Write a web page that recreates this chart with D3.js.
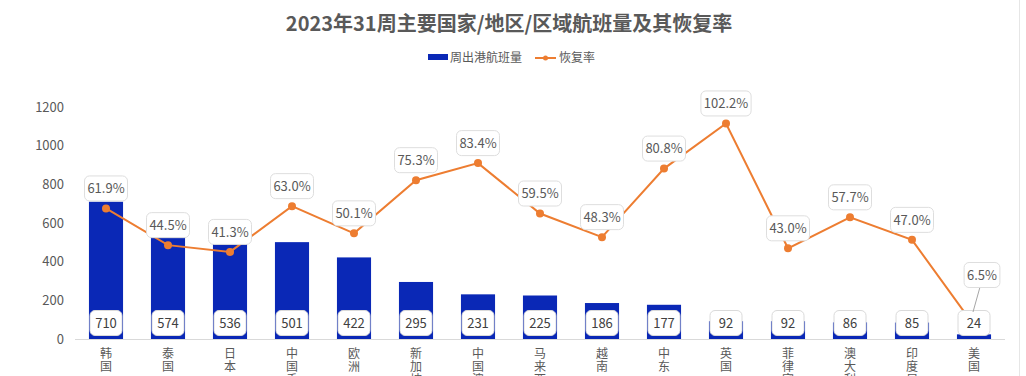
<!DOCTYPE html>
<html>
<head>
<meta charset="utf-8">
<script src="https://cdn.jsdelivr.net/npm/d3@7/dist/d3.min.js"></script>
<style>
  body { margin: 0; background: #fff; }
  svg { display: block; font-family: "Noto Sans CJK SC", "Noto Sans", sans-serif; }
</style>
</head>
<body>
<div id="chart"></div>
<script>
// data
const categories = ['韩国', '泰国', '日本', '中国香港', '欧洲', '新加坡', '中国澳门', '马来西亚',
    '越南', '中东', '英国', '菲律宾', '澳大利亚', '印度尼西亚', '美国'];
const flights = [710, 574, 536, 501, 422, 295, 231, 225, 186, 177, 92, 92, 86, 85, 24];
const recovery = [0.619, 0.445, 0.413, 0.630, 0.501, 0.753, 0.834, 0.595, 0.483, 0.808, 1.022, 0.430, 0.577, 0.470, 0.065];
const yTicks = [0, 200, 400, 600, 800, 1000, 1200];

const W = 1026, H = 376;
const barColor = '#0A28B6';
const lineColor = '#ED7D31';
const textColor = '#595959';

const svg = d3.select('#chart').append('svg')
    .attr('width', W).attr('height', H);

// title
svg.append('text')
    .attr('x', 509).attr('y', 31)
    .attr('text-anchor', 'middle')
    .attr('font-size', '20px')
    .attr('font-weight', 'bold')
    .attr('fill', textColor)
    .text('2023年31周主要国家/地区/区域航班量及其恢复率');

// legend
const legend = svg.append('g').attr('font-size', '12px').attr('fill', textColor);
legend.append('rect').attr('x', 428).attr('y', 54).attr('width', 20).attr('height', 6).attr('fill', barColor);
legend.append('text').attr('x', 450).attr('y', 62).text('周出港航班量');
legend.append('line').attr('x1', 535).attr('x2', 556).attr('y1', 58).attr('y2', 58)
    .attr('stroke', lineColor).attr('stroke-width', 2);
legend.append('circle').attr('cx', 545.5).attr('cy', 58).attr('r', 2.5).attr('fill', lineColor);
legend.append('text').attr('x', 559).attr('y', 62).text('恢复率');

// scales
const x = d3.scaleBand().domain(categories).range([75, 1005]).paddingInner(0.45).paddingOuter(0.225);
const y = d3.scaleLinear().domain([0, 1200]).range([339, 107]);
const y2 = d3.scaleLinear().domain([0, 1.1]).range([339, 107]); // hidden secondary axis
const cx = d => x(d) + x.bandwidth() / 2;

// y axis
const yAxis = svg.append('g')
    .attr('transform', 'translate(70,0)')
    .call(d3.axisLeft(y).tickValues(yTicks).tickFormat(d3.format('d')).tickSize(0).tickPadding(6));
yAxis.select('.domain').remove();
yAxis.selectAll('text').attr('font-size', '13px').attr('fill', textColor)
    .attr('font-family', '"Noto Sans CJK SC", sans-serif');

// right border of chart area
svg.append('line').attr('x1', 1019.5).attr('x2', 1019.5).attr('y1', 0).attr('y2', H)
    .attr('stroke', '#e6e6e6');

// bars
svg.append('g').selectAll('rect')
    .data(flights)
    .join('rect')
    .attr('x', (d, i) => x(categories[i]))
    .attr('y', d => y(d))
    .attr('width', x.bandwidth())
    .attr('height', d => y(0) - y(d))
    .attr('fill', barColor);

// x axis line
svg.append('line').attr('x1', 75).attr('x2', 1005).attr('y1', 339.5).attr('y2', 339.5)
    .attr('stroke', '#d9d9d9');

// x labels, vertical one char per line (bottom of the image cuts them off)
const xl = svg.append('g').attr('font-size', '12px').attr('fill', textColor);
categories.forEach(c => {
    [...c].forEach((ch, k) => {
        xl.append('text').attr('text-anchor', 'middle')
            .attr('x', cx(c)).attr('y', 358 + k * 13).text(ch);
    });
});

// line
const line = d3.line()
    .x((d, i) => cx(categories[i]))
    .y(d => y2(d));
svg.append('path').datum(recovery)
    .attr('d', line)
    .attr('fill', 'none')
    .attr('stroke', lineColor)
    .attr('stroke-width', 2);

svg.append('g').selectAll('circle')
    .data(recovery)
    .join('circle')
    .attr('cx', (d, i) => cx(categories[i]))
    .attr('cy', d => y2(d))
    .attr('r', 4)
    .attr('fill', lineColor);

// bar value labels (drawn over the line, as in the reference)
const bl = svg.append('g');
flights.forEach((v, i) => {
    const c = categories[i];
    const g = bl.append('g').attr('transform', `translate(${cx(c)},323)`);
    g.append('rect').attr('x', -16).attr('y', -12.5).attr('width', 32).attr('height', 25)
        .attr('rx', 5).attr('fill', '#fff').attr('stroke', '#dadada');
    g.append('text').attr('text-anchor', 'middle').attr('dy', '0.36em')
        .attr('font-size', '13px').attr('fill', '#404040').text(v);
});

// recovery labels
const fmt = d => (d * 100).toFixed(1) + '%';
const last = categories.length - 1;
const rl = svg.append('g');
recovery.forEach((v, i) => {
    const c = categories[i];
    let lx = cx(c), ly = y2(v) - 20;
    if (i === last) {
        lx = cx(c) + 8; ly = 275;
        rl.append('line').attr('x1', cx(c) - 1).attr('y1', 312)
            .attr('x2', lx - 2).attr('y2', ly + 12)
            .attr('stroke', '#a6a6a6').attr('stroke-width', 1);
    }
    const s = fmt(v);
    const w = s.length * 7.2 + 7;
    const g = rl.append('g').attr('transform', `translate(${lx},${ly})`);
    g.append('rect').attr('x', -w / 2).attr('y', -12.5).attr('width', w).attr('height', 25)
        .attr('rx', 5).attr('fill', '#fff').attr('stroke', '#dedede');
    g.append('text').attr('text-anchor', 'middle').attr('dy', '0.36em')
        .attr('font-size', '13px').attr('fill', textColor).text(s);
});
</script>
</body>
</html>
